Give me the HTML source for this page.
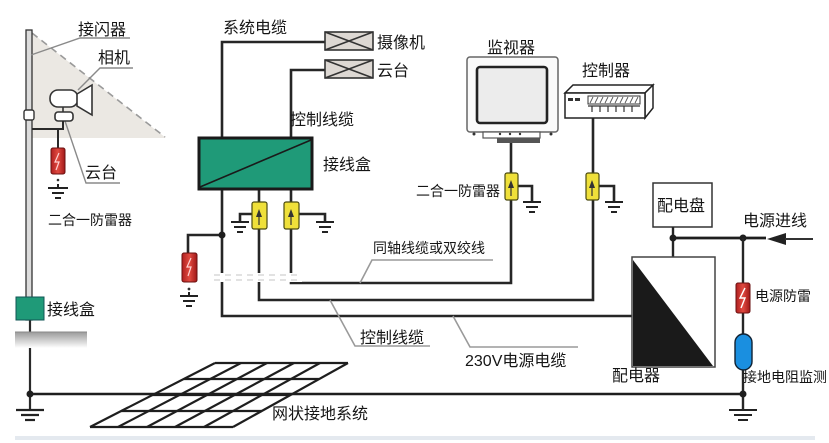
<!DOCTYPE html>
<html><head><meta charset="utf-8"><style>
html,body{margin:0;padding:0;background:#fff;}
svg{display:block;}
text{font-family:"Liberation Sans","Noto Sans CJK SC",sans-serif;fill:#151515;}
</style></head><body>
<svg width="829" height="443" viewBox="0 0 829 443" xmlns="http://www.w3.org/2000/svg">
<defs>
<linearGradient id="gnd" x1="0" y1="0" x2="0" y2="1"><stop offset="0" stop-color="#9a9a9a"/><stop offset="1" stop-color="#ffffff"/></linearGradient>
<linearGradient id="red" x1="0" y1="0" x2="1" y2="0"><stop offset="0" stop-color="#b02020"/><stop offset="0.5" stop-color="#e04a40"/><stop offset="1" stop-color="#a01818"/></linearGradient>
</defs>
<rect width="829" height="443" fill="#fff"/>
<rect x="15" y="436" width="800" height="4" fill="#e4e9ef"/>

<!-- shading triangle -->
<polygon points="28,30 28,138 166,138" fill="#ebe8e3"/>
<line x1="32" y1="33" x2="165" y2="137" stroke="#9a9a9a" stroke-width="1.6" stroke-dasharray="7,5"/>

<!-- pole -->
<rect x="26" y="30" width="6" height="290" fill="#dcdcdc" stroke="#333" stroke-width="1.3"/>
<line x1="30" y1="320" x2="30" y2="410" stroke="#2a2a2a" stroke-width="2.2"/>
<rect x="24" y="110" width="10" height="10" rx="2" fill="#fff" stroke="#333" stroke-width="1.4"/>

<!-- leaders left -->
<g stroke="#8a8a8a" stroke-width="1.4" fill="none">
<polyline points="31,55 80,38 130,38"/>
<polyline points="78,90 100,68 133,68"/>
<polyline points="65,121 86,183 120,183"/>
</g>

<!-- camera -->
<g stroke="#333" stroke-width="1.6" fill="#fff">
<rect x="50" y="90" width="28" height="17" rx="8"/>
<polygon points="77,94 92,85 92,115 77,106"/>
<line x1="63" y1="107" x2="63" y2="112"/>
<rect x="55" y="112" width="18" height="9" rx="3"/>
</g>
<path d="M32 129 H63 V121 M58 129 V148" stroke="#2a2a2a" stroke-width="2" fill="none"/>
<rect x="51" y="148" width="14" height="26" rx="2" fill="url(#red)" stroke="#6a1010" stroke-width="1"/>
<path d="M59 153 L55 162 L59 162 L56 170" stroke="#ffd0d0" stroke-width="1.2" fill="none"/>
<circle cx="58" cy="180" r="1.3" fill="#333"/>
<g stroke="#222" stroke-width="2"><line x1="58" y1="184" x2="58" y2="188"/><line x1="48" y1="188" x2="68" y2="188"/><line x1="52" y1="193" x2="64" y2="193"/><line x1="55" y1="198" x2="61" y2="198"/></g>

<!-- left junction box & ground surface -->
<rect x="16" y="297" width="28" height="23" fill="#1f9a78" stroke="#155" stroke-width="1"/>
<rect x="15" y="332" width="72" height="16" fill="url(#gnd)"/>
<line x1="15" y1="332" x2="87" y2="332" stroke="#888" stroke-width="1"/>

<!-- mesh -->
<g stroke="#1e1e1e" stroke-width="2.2" fill="none">
<line x1="215" y1="363" x2="348" y2="363"/>
<line x1="184" y1="379" x2="319" y2="379"/>
<line x1="152" y1="395" x2="290" y2="395"/>
<line x1="121" y1="411" x2="262" y2="411"/>
<line x1="90" y1="427" x2="233" y2="427"/>
<line x1="215" y1="363" x2="90" y2="427"/>
<line x1="241" y1="363" x2="118" y2="427"/>
<line x1="267" y1="363" x2="147" y2="427"/>
<line x1="294" y1="363" x2="175" y2="427"/>
<line x1="320" y1="363" x2="204" y2="427"/>
<line x1="348" y1="363" x2="233" y2="427"/>
</g>

<!-- ground line -->
<line x1="30" y1="394" x2="743" y2="394" stroke="#1e1e1e" stroke-width="2.6"/>
<circle cx="30" cy="394" r="3.5" fill="#1e1e1e"/>
<g stroke="#222" stroke-width="2.2"><line x1="16" y1="410" x2="44" y2="410"/><line x1="21" y1="415" x2="39" y2="415"/><line x1="25" y1="420" x2="35" y2="420"/></g>

<!-- wires -->
<g stroke="#262626" stroke-width="2.6" fill="none">
<path d="M222 137 V42 H325"/>
<path d="M291 137 V70 H325"/>
<path d="M222 190 V316 H632"/>
<path d="M259 190 V300 H593 V118"/>
<path d="M291 190 V283 H511 V143"/>
<path d="M222 235 H188 V253"/>
<path d="M252 214 H240 V222"/>
<path d="M299 214 H325 V222"/>
<path d="M518 186 H532 V202"/>
<path d="M599 186 H614 V202"/>
</g>
<circle cx="222" cy="235" r="3.5" fill="#1e1e1e"/>

<!-- junction box -->
<rect x="199" y="138" width="113" height="51" fill="#1f9a78" stroke="#1a1a1a" stroke-width="3"/>
<line x1="200" y1="187" x2="311" y2="140" stroke="#1a1a1a" stroke-width="1.6"/>

<!-- yellow arresters -->
<g stroke="#4a4a10" stroke-width="1.2">
<rect x="252" y="202" width="15" height="27" rx="2" fill="#efe03a"/>
<rect x="284" y="202" width="15" height="27" rx="2" fill="#efe03a"/>
<rect x="505" y="173" width="13" height="27" rx="2" fill="#efe03a"/>
<rect x="586" y="173" width="13" height="27" rx="2" fill="#efe03a"/>
</g>
<g fill="#333"><polygon points="259,209 256,217 262,217"/><polygon points="291,209 288,217 294,217"/><polygon points="511,180 508,188 514,188"/><polygon points="592,180 589,188 595,188"/></g>
<g stroke="#333" stroke-width="1.2"><line x1="259" y1="215" x2="259" y2="225"/><line x1="291" y1="215" x2="291" y2="225"/><line x1="511" y1="186" x2="511" y2="196"/><line x1="592" y1="186" x2="592" y2="196"/></g>

<!-- ground symbols -->
<g stroke="#222" stroke-width="2">
<line x1="231" y1="222" x2="249" y2="222"/><line x1="234" y1="227" x2="246" y2="227"/><line x1="237" y1="232" x2="243" y2="232"/>
<line x1="316" y1="222" x2="334" y2="222"/><line x1="319" y1="227" x2="331" y2="227"/><line x1="322" y1="232" x2="328" y2="232"/>
<line x1="523" y1="202" x2="541" y2="202"/><line x1="526" y1="207" x2="538" y2="207"/><line x1="529" y1="212" x2="535" y2="212"/>
<line x1="605" y1="202" x2="623" y2="202"/><line x1="608" y1="207" x2="620" y2="207"/><line x1="611" y1="212" x2="617" y2="212"/>
<line x1="180" y1="296" x2="198" y2="296"/><line x1="183" y1="301" x2="195" y2="301"/><line x1="186" y1="306" x2="192" y2="306"/>
<line x1="729" y1="410" x2="757" y2="410"/><line x1="734" y1="415" x2="752" y2="415"/><line x1="738" y1="420" x2="748" y2="420"/>
</g>

<!-- red arrester lower left -->
<rect x="182" y="253" width="15" height="29" rx="2" fill="url(#red)" stroke="#6a1010" stroke-width="1"/>
<path d="M191 258 L187 267 L191 267 L188 276" stroke="#ffd0d0" stroke-width="1.2" fill="none"/>
<circle cx="189" cy="289" r="1.4" fill="#333"/>
<line x1="189" y1="292" x2="189" y2="296" stroke="#222" stroke-width="2"/>

<!-- break band -->
<rect x="212" y="273" width="90" height="9" fill="#fff"/>
<line x1="214" y1="275" x2="300" y2="275" stroke="#d0d0d0" stroke-width="1.2" stroke-dasharray="6,5"/>
<line x1="214" y1="280" x2="300" y2="280" stroke="#d0d0d0" stroke-width="1.2" stroke-dasharray="6,5"/>

<!-- camera / PTZ boxes -->
<g stroke="#333" stroke-width="1.6">
<rect x="325" y="32" width="48" height="18" fill="#ddd8d3"/>
<path d="M325 32 L373 50 M373 32 L325 50" fill="none"/>
<rect x="325" y="60" width="48" height="18" fill="#ddd8d3"/>
<path d="M325 60 L373 78 M373 60 L325 78" fill="none"/>
</g>

<!-- monitor -->
<rect x="467" y="57" width="91" height="75" rx="3" fill="#fafafa" stroke="#666" stroke-width="1.5"/>
<rect x="477" y="67" width="70" height="56" rx="3" fill="#ececec" stroke="#222" stroke-width="2.6"/>
<rect x="483" y="132" width="57" height="6" fill="#fff" stroke="#555" stroke-width="1.2"/>
<rect x="497" y="138" width="43" height="5" fill="#555"/>
<g fill="#333"><circle cx="474" cy="134" r="1.5"/><circle cx="551" cy="134" r="1.5"/><circle cx="500" cy="134" r="1.2"/><circle cx="510" cy="134" r="1.2"/><circle cx="520" cy="134" r="1.2"/></g>

<!-- controller -->
<g stroke="#222" stroke-width="1.5" fill="#fff">
<polygon points="565,93 573,85 653,85 645,93"/>
<polygon points="645,93 653,85 653,108 645,118"/>
<rect x="565" y="93" width="80" height="25"/>
</g>
<rect x="568" y="98" width="5" height="3" fill="#333"/><rect x="575" y="98" width="5" height="3" fill="#333"/>
<rect x="588" y="96" width="52" height="8" fill="#fff" stroke="#333" stroke-width="1"/>
<path d="M590 103 l3 -6 M595 103 l3 -6 M600 103 l3 -6 M605 103 l3 -6 M610 103 l3 -6 M615 103 l3 -6 M620 103 l3 -6 M625 103 l3 -6 M630 103 l3 -6 M635 103 l3 -6" stroke="#555" stroke-width="0.9"/>
<path d="M588 106 H640 M592 106 v6 M600 106 v6 M608 106 v6 M616 106 v6 M624 106 v6 M632 106 v6" stroke="#333" stroke-width="1.2"/>

<!-- distribution panel -->
<rect x="653" y="183" width="59" height="44" fill="#fff" stroke="#333" stroke-width="1.5"/>
<path d="M673 227 V257" stroke="#262626" stroke-width="2.4"/>
<line x1="673" y1="238" x2="766" y2="238" stroke="#1e1e1e" stroke-width="2.8"/>
<circle cx="673" cy="238" r="3.5" fill="#1e1e1e"/>
<circle cx="743" cy="238" r="3.5" fill="#1e1e1e"/>
<polygon points="767,239 786,233 786,245" fill="#222"/>
<line x1="785" y1="239" x2="813" y2="239" stroke="#333" stroke-width="2"/>

<!-- distributor -->
<rect x="632" y="257" width="83" height="110" fill="#fff" stroke="#444" stroke-width="1.5"/>
<polygon points="633,260 713,366 633,366" fill="#1a1a1a"/>

<!-- power branch -->
<line x1="743" y1="238" x2="743" y2="410" stroke="#262626" stroke-width="2.4"/>
<rect x="736" y="283" width="14" height="30" rx="2" fill="url(#red)" stroke="#6a1010" stroke-width="1"/>
<path d="M745 288 L740 298 L745 298 L741 308" stroke="#fff" stroke-width="1.4" fill="none"/>
<rect x="735" y="334" width="17" height="36" rx="8.5" fill="#1a8fe0" stroke="#123" stroke-width="1.4"/>
<circle cx="743" cy="394" r="3.5" fill="#1e1e1e"/>

<!-- leaders middle -->
<g stroke="#9a9a9a" stroke-width="1.6" fill="none">
<polyline points="360,283 372,260 493,260"/>
<polyline points="330,300 355,346 430,346"/>
<polyline points="453,316 470,347 578,347"/>
</g>

<!-- texts -->
<g font-size="16">
<text x="78" y="35">接闪器</text>
<text x="98" y="63">相机</text>
<text x="85" y="178">云台</text>
<text x="47" y="315">接线盒</text>
<text x="223" y="33">系统电缆</text>
<text x="377" y="48">摄像机</text>
<text x="377" y="76">云台</text>
<text x="290" y="125">控制线缆</text>
<text x="323" y="170">接线盒</text>
<text x="487" y="53">监视器</text>
<text x="582" y="76">控制器</text>
<text x="657" y="211">配电盘</text>
<text x="743" y="226">电源进线</text>
<text x="612" y="381">配电器</text>
<text x="360" y="343">控制线缆</text>
<text x="465" y="366">230V电源电缆</text>
<text x="272" y="419">网状接地系统</text>
</g>
<g font-size="14">
<text x="48" y="225">二合一防雷器</text>
<text x="416" y="196">二合一防雷器</text>
<text x="373" y="253">同轴线缆或双绞线</text>
<text x="755" y="301">电源防雷</text>
<text x="743" y="382">接地电阻监测</text>
</g>
</svg>
</body></html>
